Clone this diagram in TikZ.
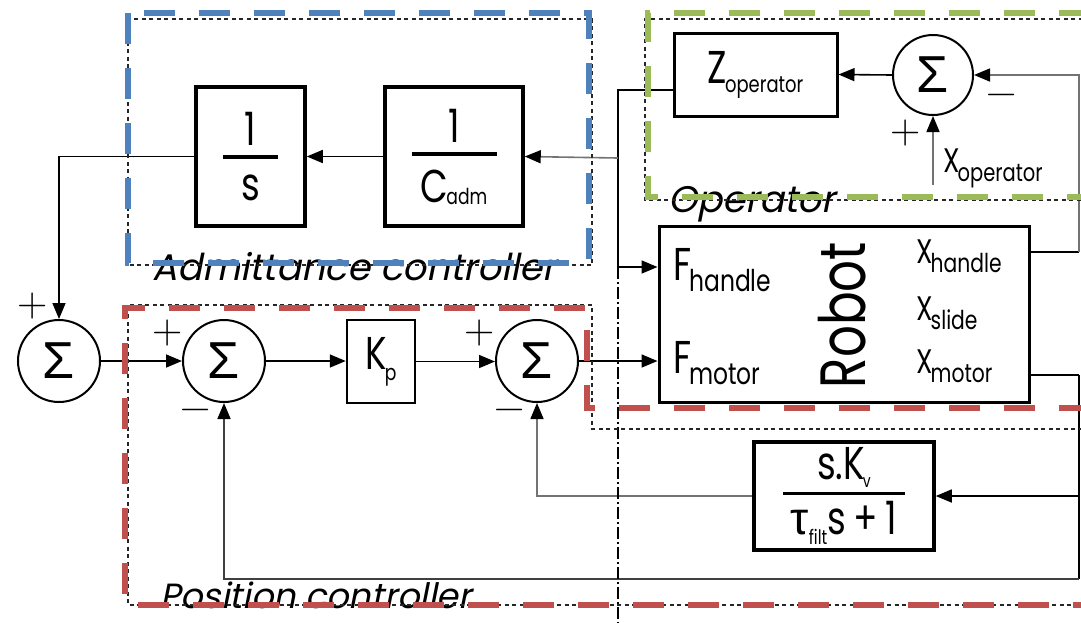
\documentclass[tikz,border=0pt]{standalone}
\usepackage{fontspec}
\setmainfont{Poppins}[FakeStretch=0.78]
\newfontfamily\slfont{Poppins}[FakeSlant=0.2]
\newfontfamily\sigfont{Liberation Sans}
\newfontfamily\pmfont{Latin Modern Roman}
\usepackage{xcolor}
\usepackage{tikz}
\usetikzlibrary{arrows.meta, positioning, calc}

\definecolor{admblue}{HTML}{4F81BD}
\definecolor{opgreen}{HTML}{9BBB59}
\definecolor{posred}{HTML}{C0504D}

\newcommand{\bigsz}{\fontsize{46}{50}\selectfont}
\newcommand{\xsz}{\fontsize{34}{36}\selectfont}
\newcommand{\robsz}{\fontsize{64}{64}\selectfont}
\newcommand{\sigsz}{\sigfont\fontsize{52}{52}\selectfont}
\newcommand{\pmsz}{\pmfont\fontsize{42}{42}\selectfont}
\newcommand{\grpsz}{\slfont\fontsize{37}{40}\selectfont}
% fraction: bar width, gap above, gap below, numerator, denominator
\newcommand{\frc}[5]{\vbox{\offinterlineskip\halign{\hfil##\hfil\cr
  #4\cr\noalign{\kern#2}\rule{#1}{3.5pt}\cr\noalign{\kern#3}#5\cr}}}
\newcommand{\lowsub}[3]{#1\kern-2pt\raisebox{#2}{#3}}
\newcommand{\Fsub}[1]{\lowsub{F}{-11pt}{\fontsize{30}{30}\selectfont #1}}
\newcommand{\Xsub}[1]{\lowsub{X}{-9pt}{\fontsize{26}{26}\selectfont #1}}

\begin{document}
\begin{tikzpicture}[x=1pt, y=-1pt,
  blk/.style={draw, line width=3.5pt, inner sep=0pt, font=\bigsz},
  thinblk/.style={draw, line width=2.5pt, inner sep=0pt, font=\bigsz},
  sumnode/.style={circle, draw, line width=2pt, minimum size=82pt,
    inner sep=0pt, font=\sigsz},
  sgn/.style={font=\pmsz, inner sep=0pt},
  lbl/.style={anchor=base west, inner sep=0pt},
  grptext/.style={font=\grpsz, anchor=base west, inner sep=0pt},
  ln/.style={line width=1.6pt},
  arr/.style={-{Triangle[length=16pt,width=13pt,color=black]}, line width=1.6pt},
  garr/.style={arr, draw=black!55},
  dotbox/.style={line width=1.4pt, dash pattern=on 4pt off 3.5pt, draw=black!85},
  sepline/.style={line width=1.5pt, dash pattern=on 12pt off 3pt on 2pt off 3pt},
  ctrlbox/.style={line width=6.5pt, dash pattern=on 31pt off 24pt}
]
\useasboundingbox (0,0) rectangle (1081,622);
\clip (0,0) rectangle (1081,622);

%% ==== Admittance controller ====
\node[blk, minimum width=109pt, minimum height=139pt] (integ) at (250.5,156.5)
  {\frc{55pt}{10pt}{16pt}{1}{s}};
\node[blk, minimum width=138pt, minimum height=139pt] (cadm) at (454,156.5)
  {\frc{85pt}{10pt}{14pt}{1}{\lowsub{C}{-2pt}{\fontsize{22}{22}\selectfont adm}}};

%% ==== Sums and position loop ====
\node[sumnode] (s0) at (59,361) {Σ};
\node[sumnode] (s1) at (224,361) {Σ};
\node[thinblk, minimum width=68pt, minimum height=83pt] (kp) at (381,361.5)
  {\lowsub{K}{-11pt}{\fontsize{22}{22}\selectfont p}};
\node[sumnode] (s2) at (537,361) {Σ};

\node[sgn] (p0) at (33,306) {+};
\node[sgn] (p1) at (168,333) {+};
\node[sgn] (m1) at (196,415) {−};
\node[sgn] (p2) at (480,333) {+};
\node[sgn] (m2) at (510,415) {−};

%% ==== Operator ====
\node[blk, line width=3pt, minimum width=163pt, minimum height=83pt] (zop) at (755.5,74.5)
  {\lowsub{Z}{-9pt}{\fontsize{23}{23}\selectfont operator}};
\node[sumnode, minimum size=80pt] (sop) at (933,75) {Σ};
\node[sgn] (pop) at (906,133) {+};
\node[sgn] (mop) at (1002,100) {−};
\node[lbl, font=\xsz] (xop) at (943,172)
  {\lowsub{X}{-9pt}{\fontsize{25}{25}\selectfont operator}};
\coordinate (xin) at (933,185);

%% ==== Robot ====
\node[draw, line width=3pt, minimum width=370pt, minimum height=176pt] (robot) at (844,314) {};
\node[lbl, font=\bigsz] (fh) at (673,280) {\Fsub{handle}};
\node[lbl, font=\bigsz] (fm) at (673,373) {\Fsub{motor}};
\node[rotate=90, anchor=base, inner sep=0pt, font=\robsz] (rob) at (865,315) {Robot};
\node[lbl, font=\xsz] (xh) at (916,263) {\Xsub{handle}};
\node[lbl, font=\xsz] (xs) at (916,320) {\Xsub{slide}};
\node[lbl, font=\xsz] (xm) at (916,373) {\Xsub{motor}};

%% ==== Velocity feedback ====
\node[blk, minimum width=180pt, minimum height=108pt] (kv) at (844,496)
  {\frc{122pt}{4pt}{6pt}{s.\lowsub{K}{-8pt}{\fontsize{18}{18}\selectfont v}}%
   {{\sigfont τ}\raisebox{-10pt}{\fontsize{20}{20}\selectfont filt}s\,+\,1}};

%% ==== Junctions ====
\coordinate (fbus) at (618,267);
\coordinate (abus) at (618,158);
\coordinate (xhr) at (1079,252);
\coordinate (xmr) at (1079,375);
\coordinate (fbr) at (1079,579);

%% ==== Forward path ====
\draw[arr] (cadm.west) -- (integ.east);
\draw[arr] (integ.west) -| (s0.north);
\foreach \a/\b in {s0/s1, s1/kp, kp/s2}
  \draw[arr] (\a.east) -- (\a.east -| \b.west);
\draw[arr] (s2.east) -- (s2.east -| robot.west);
\draw[arr] (sop.west) -- (zop.east);
\draw[ln] ([yshift=-15.5pt]zop.west) -| (fbus);
\draw[arr] (fbus) -- (fbus -| robot.west);
\draw[garr] (abus) -- (cadm.east);
\draw[garr] (xin) -- (sop.south);

%% ==== Feedback ====
\draw[ln] ([yshift=62pt]robot.east) -- (xhr);
\draw[garr] (xhr) |- (sop.east);
\draw[ln] ([yshift=-61pt]robot.east) -- (xmr);
\draw[ln] (xmr) -- (fbr);
\draw[arr] (xmr |- kv) -- (kv.east);
\draw[garr] (kv.west) -| (s2.south);
\draw[arr, draw=black!75] (fbr) -| (s1.south);

%% ==== Separator ====
\draw[sepline] (fbus) -- (618,630);

%% ==== Group labels ====
\node[grptext] (admlbl) at (152,280) {Admittance controller};
\node[grptext] (oplbl) at (668,212) {Operator};
\node[grptext, font=\slfont\fontsize{35}{38}\selectfont] (poslbl) at (160,608) {Position controller};

%% ==== Group boxes ====
\draw[dotbox] (128,19) rectangle (592,265);
\draw[dotbox] (1090,19) -- (645,19) -- (645,200) -- (1090,200);
\draw[dotbox] (1090,429) -- (592,429) -- (592,305) -- (128,305) -- (128,605) -- (1090,605);
\draw[ctrlbox, admblue] (128,13) rectangle (589,263);
\draw[ctrlbox, opgreen] (1090,13) -- (648,13) -- (648,197) -- (1090,197);
\draw[ctrlbox, posred] (1090,408) -- (587,408) -- (587,308) -- (125,308) -- (125,605) -- (1090,605);

\end{tikzpicture}
\end{document}
